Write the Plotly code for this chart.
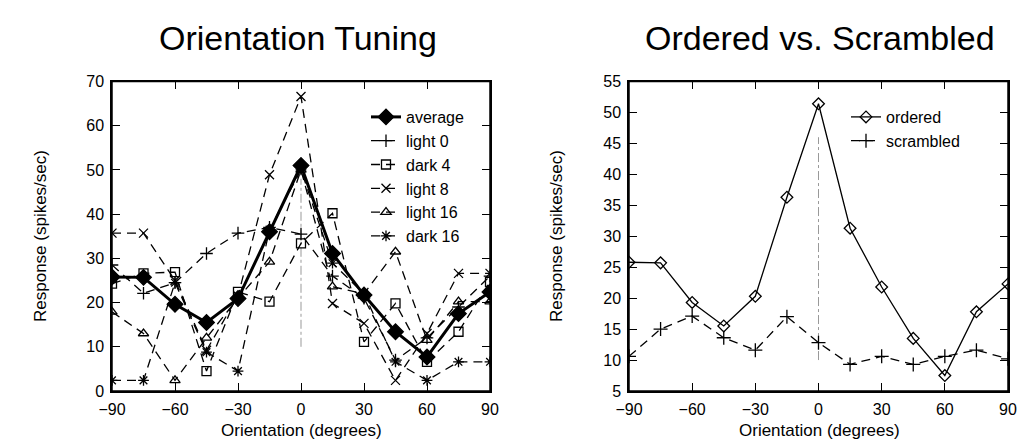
import plotly.graph_objects as go

# ---------------- data ----------------
orientation = [-90, -75, -60, -45, -30, -15, 0, 15, 30, 45, 60, 75, 90]

average = [25.8, 25.7, 19.6, 15.5, 20.9, 36.0, 51.0, 31.1, 21.7, 13.4, 7.7, 17.5, 22.4]
light_0 = [28.5, 22.1, 24.5, 31.1, 35.7, 37.0, 35.5, 26.0, 21.0, 7.0, 12.0, 19.0, 26.0]
dark_4 = [24.3, 26.6, 26.9, 4.5, 22.4, 20.2, 33.4, 40.2, 11.1, 19.8, 6.6, 13.4, 24.7]
light_8 = [35.7, 35.7, 25.0, 9.2, 21.5, 48.9, 66.6, 19.8, 15.3, 2.4, 13.0, 26.6, 26.6]
light_16 = [17.9, 13.0, 2.4, 12.0, 21.0, 29.2, 50.0, 23.6, 22.0, 31.5, 11.5, 20.2, 20.2]
dark_16 = [2.4, 2.4, 24.5, 8.8, 4.5, 36.5, 50.0, 28.9, 22.0, 6.6, 2.4, 6.6, 6.6]

ordered = [25.8, 25.7, 19.3, 15.5, 20.3, 36.3, 51.4, 31.3, 21.8, 13.5, 7.5, 17.8, 22.3]
scrambled = [10.6, 15.0, 17.1, 13.6, 11.6, 17.0, 12.8, 9.3, 10.6, 9.3, 10.6, 11.6, 10.2]

x_ticks = [-90, -60, -30, 0, 30, 60, 90]
left_y_ticks = [0, 10, 20, 30, 40, 50, 60, 70]
right_y_ticks = [5, 10, 15, 20, 25, 30, 35, 40, 45, 50, 55]

left_series = [
    ("average", average, "diamond", True),
    ("light 0", light_0, "cross-thin-open", False),
    ("dark 4", dark_4, "square-open", False),
    ("light 8", light_8, "x-thin-open", False),
    ("light 16", light_16, "triangle-up-open", False),
    ("dark 16", dark_16, "asterisk-open", False),
]

W, H = 1018, 441
FONT = "Liberation Sans, Arial, sans-serif"

fig = go.Figure()

for name, vals, sym, main in left_series:
    fig.add_trace(go.Scatter(
        x=orientation, y=vals, name=name, mode="lines+markers",
        xaxis="x", yaxis="y", legend="legend",
        line=dict(color="black", width=3 if main else 1.3,
                  dash="solid" if main else "9px,6px"),
        marker=dict(symbol=sym, size=12 if main else 9, color="black",
                    line=dict(color="black", width=1.3)),
    ))

fig.add_trace(go.Scatter(
    x=orientation, y=ordered, name="ordered", mode="lines+markers",
    xaxis="x2", yaxis="y2", legend="legend2",
    line=dict(color="black", width=1.3),
    marker=dict(symbol="diamond-open", size=9, color="black",
                line=dict(color="black", width=1.3)),
))
fig.add_trace(go.Scatter(
    x=orientation, y=scrambled, name="scrambled", mode="lines+markers",
    xaxis="x2", yaxis="y2", legend="legend2",
    line=dict(color="black", width=1.3, dash="9px,6px"),
    marker=dict(symbol="cross-thin-open", size=10, color="black",
                line=dict(color="black", width=1.3)),
))

# gray reference lines at 0 degrees
fig.add_shape(type="line", xref="x", yref="y", x0=0, x1=0, y0=10, y1=48,
              line=dict(color="#999999", width=1, dash="dashdot"), layer="below")
fig.add_shape(type="line", xref="x2", yref="y2", x0=0, x1=0, y0=10, y1=46,
              line=dict(color="#999999", width=1, dash="dashdot"), layer="below")

# full frame around each plot
for xr, yr in (("x domain", "y domain"), ("x2 domain", "y2 domain")):
    fig.add_shape(type="rect", xref=xr, yref=yr, x0=0, x1=1, y0=0, y1=1,
                  line=dict(color="black", width=1.5), fillcolor="rgba(0,0,0,0)",
                  layer="above")

def px_x(p):
    return p / W

def px_y(p):
    return 1 - p / H

axis_common = dict(
    showline=True, linecolor="black", linewidth=1.5, mirror="allticks",
    ticks="inside", ticklen=8, tickwidth=1.3, tickcolor="black",
    showgrid=False, zeroline=False,
    tickfont=dict(family=FONT, size=16, color="black"),
)

y_dom = [px_y(391), px_y(81.5)]

fig.update_layout(
    width=W, height=H,
    margin=dict(l=0, r=0, t=0, b=0),
    paper_bgcolor="white", plot_bgcolor="white",
    font=dict(family=FONT, color="black"),
    xaxis=dict(domain=[px_x(112), px_x(490)], range=[-90, 90], tickvals=x_ticks,
               anchor="y", automargin=False, ticklabelstandoff=3, **axis_common),
    yaxis=dict(domain=y_dom, range=[0, 70], tickvals=left_y_ticks,
               anchor="x", automargin=False, ticklabelstandoff=3, **axis_common),
    xaxis2=dict(domain=[px_x(629), px_x(1008)], range=[-90, 90], tickvals=x_ticks,
                anchor="y2", automargin=False, ticklabelstandoff=3, **axis_common),
    yaxis2=dict(domain=y_dom, range=[5, 55], tickvals=right_y_ticks,
                anchor="x2", automargin=False, ticklabelstandoff=3, **axis_common),
    legend=dict(x=px_x(366), y=px_y(100), xanchor="left", yanchor="top",
                bgcolor="rgba(0,0,0,0)", font=dict(family=FONT, size=16),
                tracegroupgap=0, itemwidth=30),
    legend2=dict(x=px_x(846), y=px_y(100), xanchor="left", yanchor="top",
                 bgcolor="rgba(0,0,0,0)", font=dict(family=FONT, size=16),
                 tracegroupgap=0, itemwidth=30),
    showlegend=True,
)

annos = [
    dict(text="Orientation Tuning", x=px_x(298), y=px_y(38), size=34, angle=0),
    dict(text="Ordered vs. Scrambled", x=px_x(820), y=px_y(38), size=34, angle=0),
    dict(text="Orientation (degrees)", x=px_x(301), y=px_y(430), size=17, angle=0),
    dict(text="Orientation (degrees)", x=px_x(819), y=px_y(430), size=17, angle=0),
    dict(text="Response (spikes/sec)", x=px_x(40), y=px_y(236), size=17, angle=-90),
    dict(text="Response (spikes/sec)", x=px_x(556), y=px_y(236), size=17, angle=-90),
]
for a in annos:
    fig.add_annotation(text=a["text"], x=a["x"], y=a["y"], xref="paper", yref="paper",
                       xanchor="center", yanchor="middle", showarrow=False,
                       textangle=a["angle"],
                       font=dict(family=FONT, size=a["size"], color="black"))

fig.write_html(
    "out.html",
    config={"displayModeBar": False},
    post_script="document.body.style.margin='0';document.body.style.overflow='hidden';",
)
